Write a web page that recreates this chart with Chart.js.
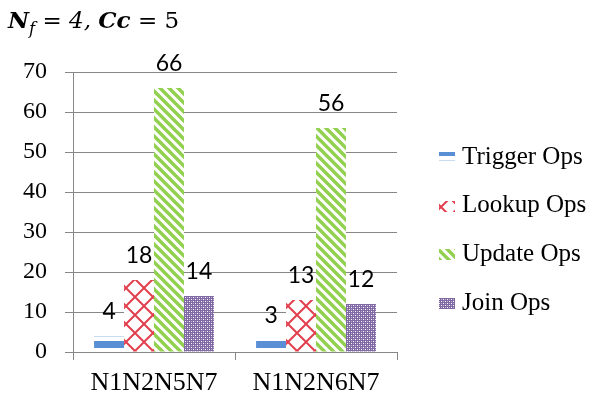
<!DOCTYPE html>
<html>
<head>
<meta charset="utf-8">
<script src="https://cdn.jsdelivr.net/npm/chart.js@4"></script>
<style>
  html, body { margin: 0; padding: 0; background: #fff; }
  #wrap { position: relative; width: 595px; height: 401px; }
  #title { position: absolute; left: 8px; top: 8px; font-family: "DejaVu Serif", serif; font-size: 23px; line-height: 23px; color: #000; white-space: nowrap; }
  #title sub { font-size: 0.72em; vertical-align: -0.35em; line-height: 0; }
</style>
</head>
<body>
<div id="wrap">
  <canvas id="opsChart" width="595" height="401"></canvas>
  <div id="title"><b><i>N</i></b><sub><i>f</i></sub><i> = 4, </i><b><i>Cc</i></b> = 5</div>
</div>
<script>
// data
const categories = ["N1N2N5N7", "N1N2N6N7"];
const seriesNames = ["Trigger Ops", "Lookup Ops", "Update Ops", "Join Ops"];
const triggerOps = [4, 3];
const lookupOps = [18, 13];
const updateOps = [66, 56];
const joinOps = [14, 12];
const yTicks = [0, 10, 20, 30, 40, 50, 60, 70];

const canvas = document.getElementById("opsChart");
const ctx = canvas.getContext("2d");

// small tiles used as bar fills (Excel style patterns)
function makeTile(w, h, draw) {
  const c = document.createElement("canvas");
  c.width = w;
  c.height = h;
  const g = c.getContext("2d");
  g.fillStyle = "#fff";
  g.fillRect(0, 0, w, h);
  draw(g);
  return ctx.createPattern(c, "repeat");
}

const triggerFill = makeTile(4, 16, g => {
  g.fillStyle = "#c9dbf1";
  g.fillRect(0, 0, 4, 1);
  g.fillStyle = "#5a8fd5";
  g.fillRect(0, 5, 4, 7);
});

const lookupFill = makeTile(18, 18, g => {
  g.strokeStyle = "#e2404e";
  g.lineWidth = 2;
  g.beginPath();
  for (const k of [-18, 0, 18]) {
    g.moveTo(-2 + k, -2);
    g.lineTo(20 + k, 20);
    g.moveTo(20 + k, -2);
    g.lineTo(-2 + k, 20);
  }
  g.stroke();
});

const updateFill = makeTile(9, 9, g => {
  g.strokeStyle = "#92d050";
  g.lineWidth = 3.4;
  g.beginPath();
  for (const k of [-9, 0, 9]) {
    g.moveTo(-2, -2 + k);
    g.lineTo(11, 11 + k);
  }
  g.stroke();
});

const joinFill = makeTile(4, 4, g => {
  g.fillStyle = "#8068a5";
  g.fillRect(0, 0, 4, 4);
  g.fillStyle = "#ffffff";
  g.fillRect(1, 1, 1, 1);
  g.fillRect(3, 3, 1, 1);
  g.fillStyle = "#c0b4d6";
  g.fillRect(3, 1, 1, 1);
  g.fillRect(1, 3, 1, 1);
});

// numbers above the bars
const valueLabels = {
  id: "valueLabels",
  afterDatasetsDraw(chart) {
    const c = chart.ctx;
    c.save();
    c.font = "23px Lato";
    c.fillStyle = "#000";
    c.textAlign = "center";
    c.textBaseline = "alphabetic";
    chart.data.datasets.forEach((ds, i) => {
      chart.getDatasetMeta(i).data.forEach((bar, j) => {
        c.fillText(String(ds.data[j]), bar.x, bar.y - 17);
      });
    });
    c.restore();
  }
};

// legend on the right, small pattern boxes
const sideLegend = {
  id: "sideLegend",
  afterDraw(chart) {
    const c = chart.ctx;
    const x = chart.chartArea.right + 42;
    c.save();
    c.font = '25px "Liberation Serif"';
    c.textBaseline = "middle";
    chart.data.datasets.forEach((ds, i) => {
      const y = 157 + i * 48.7;
      c.fillStyle = ds.backgroundColor;
      c.fillRect(x, Math.round(y - 5), 16, 11);
      c.fillStyle = "#000";
      c.fillText(ds.label, x + 23, y);
    });
    c.restore();
  }
};

const gridGray = "#878787";

const opsChart = new Chart(ctx, {
  type: "bar",
  data: {
    labels: categories,
    datasets: [
      { label: seriesNames[0], data: triggerOps, backgroundColor: triggerFill },
      { label: seriesNames[1], data: lookupOps, backgroundColor: lookupFill },
      { label: seriesNames[2], data: updateOps, backgroundColor: updateFill },
      { label: seriesNames[3], data: joinOps, backgroundColor: joinFill },
    ],
  },
  options: {
    responsive: false,
    animation: false,
    layout: { padding: { left: 23, top: 72, right: 198, bottom: 3 } },
    datasets: { bar: { categoryPercentage: 0.74, barPercentage: 1 } },
    plugins: {
      legend: { display: false },
      tooltip: { enabled: false },
    },
    scales: {
      x: {
        afterFit: s => { s.height = 46; },
        grid: { drawOnChartArea: false, offset: true, tickLength: 8, color: gridGray },
        border: { color: gridGray },
        ticks: {
          font: { family: "Liberation Serif", size: 26 },
          color: "#000",
          padding: 8,
          maxRotation: 0,
        },
      },
      y: {
        afterFit: s => { s.width = 50; },
        min: yTicks[0],
        max: yTicks[yTicks.length - 1],
        ticks: {
          stepSize: yTicks[1] - yTicks[0],
          font: { family: "Liberation Serif", size: 24 },
          color: "#000",
          padding: 18,
        },
        grid: { color: gridGray, tickLength: 8 },
        border: { color: gridGray },
      },
    },
  },
  plugins: [valueLabels, sideLegend],
});
</script>
</body>
</html>
